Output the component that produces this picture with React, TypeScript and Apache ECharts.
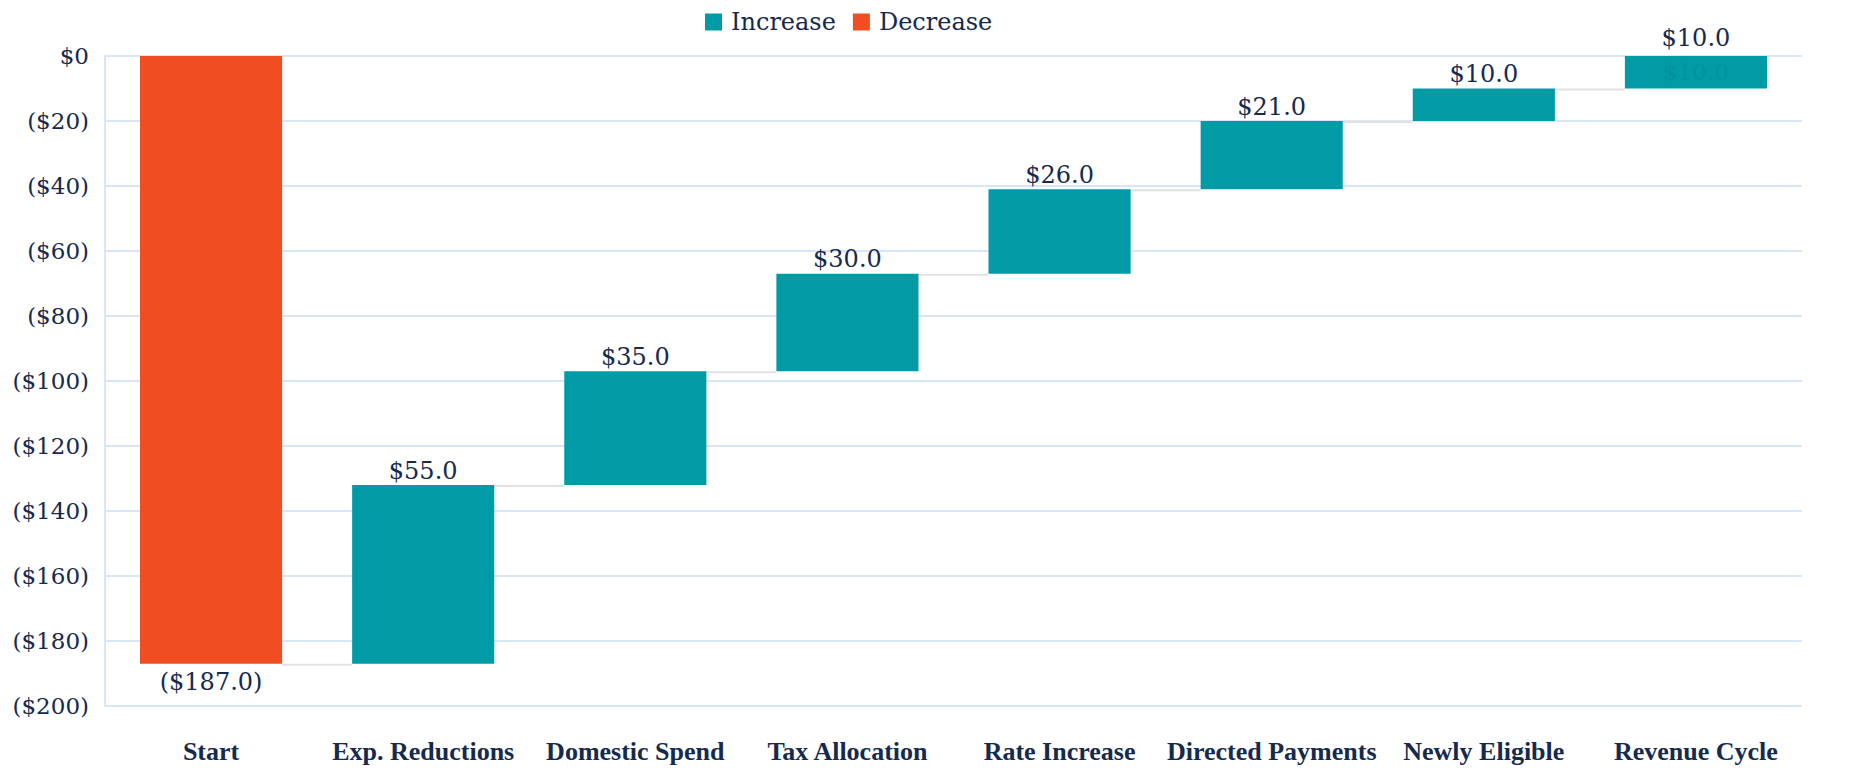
import React, { useEffect, useRef } from "react";
import * as echarts from "echarts";

const categories = [
  "Start",
  "Exp. Reductions",
  "Domestic Spend",
  "Tax Allocation",
  "Rate Increase",
  "Directed Payments",
  "Newly Eligible",
  "Revenue Cycle",
];
const startValue = -187;
const increases = [55, 35, 30, 26, 21, 10, 10];
const yMin = -200;
const yMax = 0;
const yInterval = 20;

const TEAL = "#019BA6";
const RED = "#F04D23";
const TEXT = "#152A4E";
const GRID = "#D9E6F7";

const fmtMoney = (v: number) => (v < 0 ? `($${Math.abs(v).toFixed(1)})` : `$${v.toFixed(1)}`);
const fmtTick = (v: number) => (v < 0 ? `($${Math.abs(v)})` : `$${v}`);

export default function App() {
  const ref = useRef<HTMLDivElement>(null);
  useEffect(() => {
    if (!ref.current) return;
    const chart = echarts.init(ref.current, null, { renderer: "svg" });

    const levels: number[] = [startValue];
    increases.forEach((inc, i) => levels.push(levels[i] + inc));

    const baseData: (number | string)[] = ["-", ...levels.slice(1)];
    const incData: any[] = ["-", ...increases.map((v) => -v)];
    const lastIdx = incData.length - 1;
    incData[lastIdx] = {
      value: incData[lastIdx],
      label: {
        show: true,
        position: "inside",
        color: "rgba(27,45,79,0.10)",
        fontFamily: "DejaVu Serif",
        fontSize: 23,
        formatter: (p: any) => fmtMoney(-p.value),
      },
    };
    const decData: (number | string)[] = [startValue, ...increases.map(() => "-")];

    const connectorData = levels.slice(0, levels.length - 1).map((v, i) => [i, v]);

    const labelData: any[] = [
      { value: [0, startValue], label: { position: "bottom", distance: 6 }, text: fmtMoney(startValue) },
      ...increases.map((inc, i) => ({
        value: [i + 1, levels[i + 1]],
        text: fmtMoney(inc),
        ...(i === increases.length - 1 ? { label: { distance: 6 } } : {}),
      })),
    ];

    const barPct = 0.67;

    chart.setOption({
      animation: false,
      legend: {
        data: ["Increase", "Decrease"],
        left: 700,
        top: 5,
        itemWidth: 17,
        itemHeight: 17,
        itemGap: 17,
        icon: "rect",
        textStyle: { fontFamily: "DejaVu Serif", fontSize: 24, color: TEXT, padding: [0, 0, 0, 4] },
      },
      grid: { left: 105, right: 51, top: 56, bottom: 64, containLabel: false },
      xAxis: {
        type: "category",
        data: categories,
        axisLine: { show: false },
        axisTick: { show: false },
        axisLabel: {
          interval: 0,
          margin: 32,
          fontFamily: "Liberation Serif",
          fontWeight: "bold",
          fontSize: 26,
          color: TEXT,
        },
      },
      yAxis: {
        type: "value",
        min: yMin,
        max: yMax,
        interval: yInterval,
        axisLine: { show: true, lineStyle: { color: GRID, width: 2 } },
        axisTick: { show: false },
        splitLine: { lineStyle: { color: GRID, width: 2 } },
        axisLabel: {
          margin: 16,
          fontFamily: "DejaVu Serif",
          fontSize: 23,
          color: TEXT,
          formatter: fmtTick,
        },
      },
      series: [
        {
          name: "base",
          type: "bar",
          stack: "total",
          barWidth: `${barPct * 100}%`,
          itemStyle: { color: "transparent" },
          emphasis: { disabled: true },
          silent: true,
          data: baseData,
        },
        {
          name: "Increase",
          type: "bar",
          stack: "total",
          barWidth: `${barPct * 100}%`,
          itemStyle: { color: TEAL },
          data: incData,
        },
        {
          name: "Decrease",
          type: "bar",
          stack: "total",
          barWidth: `${barPct * 100}%`,
          itemStyle: { color: RED },
          data: decData,
        },
        {
          name: "connectors",
          type: "custom",
          silent: true,
          z: 1,
          encode: { x: 0, y: 1 },
          data: connectorData,
          renderItem: (params: any, api: any) => {
            const i = api.value(0);
            const v = api.value(1);
            const a = api.coord([i, v]);
            const b = api.coord([i + 1, v]);
            const half = (api.size([1, 0])[0] * barPct) / 2;
            return {
              type: "line",
              shape: { x1: a[0] + half, y1: a[1] + 1, x2: b[0] - half, y2: b[1] + 1 },
              style: { stroke: "#E2E2E2", lineWidth: 2 },
            };
          },
        },
        {
          name: "labels",
          type: "scatter",
          silent: true,
          symbolSize: 1,
          itemStyle: { color: "transparent", opacity: 1 },
          z: 5,
          data: labelData,
          label: {
            show: true,
            position: "top",
            distance: 2,
            fontFamily: "DejaVu Serif",
            fontSize: 24,
            color: TEXT,
            opacity: 1,
            formatter: (p: any) => p.data.text,
          },
        },
      ],
    });
    return () => chart.dispose();
  }, []);
  return (
    <div
      ref={ref}
      style={{ position: "fixed", left: 0, top: 0, width: 1853, height: 770, background: "#fff" }}
    />
  );
}
